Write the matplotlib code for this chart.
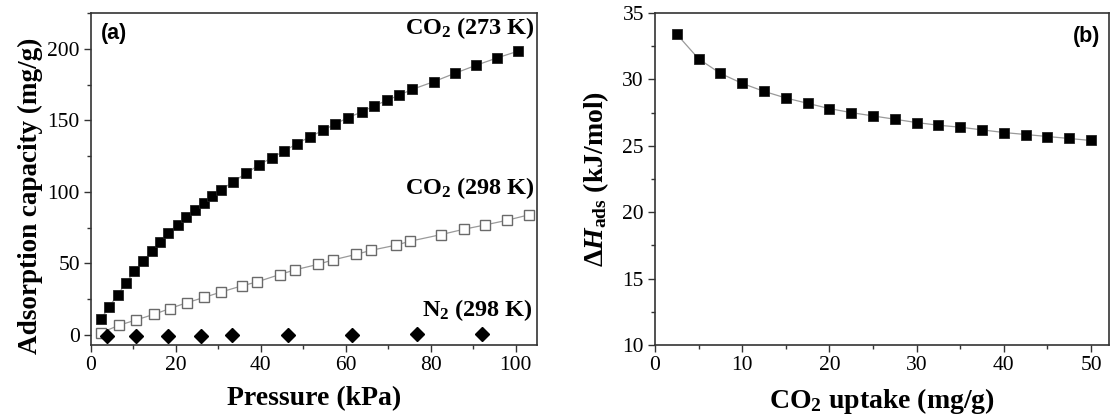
import matplotlib
matplotlib.use("Agg")
import matplotlib.pyplot as plt
from matplotlib.ticker import MultipleLocator

plt.rcParams['font.family'] = ['Liberation Serif', 'DejaVu Serif']
plt.rcParams['mathtext.fontset'] = 'custom'
plt.rcParams['mathtext.rm'] = 'Liberation Serif'
plt.rcParams['mathtext.bf'] = 'Liberation Serif:bold'
plt.rcParams['mathtext.it'] = 'Liberation Serif:italic'
plt.rcParams['mathtext.bfit'] = 'Liberation Serif:italic:bold'

# ---- Panel (a) data ----
p_co2_273 = [2.4, 4.3, 6.3, 8.3, 10.2, 12.3, 14.3, 16.3, 18.2, 20.4, 22.4, 24.4,
             26.5, 28.5, 30.7, 33.4, 36.6, 39.5, 42.5, 45.5, 48.5, 51.5, 54.6,
             57.5, 60.5, 63.7, 66.6, 69.7, 72.6, 75.6, 80.7, 85.6, 90.6, 95.7, 100.6]
q_co2_273 = [11.4, 19.8, 28.2, 36.6, 44.5, 51.5, 58.7, 65.0, 71.6, 77.2, 82.1, 87.4,
             92.5, 97.2, 101.4, 107.0, 113.1, 118.8, 123.7, 128.6, 133.7, 138.4, 143.0,
             147.4, 151.9, 155.8, 160.0, 164.0, 167.7, 171.6, 177.0, 182.8, 188.4, 193.7, 198.4]

p_co2_298 = [2.4, 6.6, 10.6, 14.9, 18.5, 22.6, 26.7, 30.7, 35.5, 39.1, 44.4, 48.0,
             53.5, 56.9, 62.5, 66.0, 71.7, 75.1, 82.5, 87.8, 92.8, 98.0, 103.0]
q_co2_298 = [1.6, 6.8, 10.5, 14.5, 18.4, 22.6, 26.3, 30.1, 34.3, 37.1, 42.2, 45.5,
             49.4, 52.4, 56.4, 59.2, 62.7, 65.5, 70.2, 73.9, 76.9, 80.2, 83.9]

p_n2_298 = [3.7, 10.6, 18.2, 25.9, 33.3, 46.3, 61.5, 76.8, 92.1]
q_n2_298 = [-0.7, -0.7, -0.6, -0.5, -0.3, -0.2, 0.2, 0.6, 1.0]

# ---- Panel (b) data ----
uptake = [2.5, 5, 7.5, 10, 12.5, 15, 17.5, 20, 22.5, 25, 27.5, 30, 32.5, 35,
          37.5, 40, 42.5, 45, 47.5, 50]
dH_ads = [33.4, 31.55, 30.45, 29.7, 29.1, 28.6, 28.2, 27.8, 27.5, 27.25, 27.0,
          26.75, 26.55, 26.4, 26.2, 26.0, 25.85, 25.7, 25.55, 25.4]

fig = plt.figure(figsize=(11.15, 4.19), dpi=100)
W, H = 1115, 419
axa = fig.add_axes([91 / W, (H - 345) / H, 446 / W, 332 / H])
axb = fig.add_axes([655 / W, (H - 345) / H, 454 / W, 332 / H])

spine_c = '#333333'
for ax in (axa, axb):
    for s in ax.spines.values():
        s.set_color(spine_c)
        s.set_linewidth(1.2)
    ax.tick_params(which='both', direction='out', color=spine_c, labelsize=15.5,
                   top=False, right=False)
    ax.tick_params(which='major', length=5, width=1.0, pad=3)
    ax.tick_params(which='minor', length=3, width=1.0)

line_c = '#9a9a9a'
axa.plot(p_co2_273, q_co2_273, '-', color=line_c, lw=0.9, marker='s', ms=7,
         mfc='black', mec='#222222', mew=0.6, zorder=3)
axa.plot(p_co2_298, q_co2_298, '-', color=line_c, lw=0.9, marker='s', ms=7,
         mfc='white', mec='#6a6a6a', mew=1.0, zorder=3)
axa.plot(p_n2_298, q_n2_298, linestyle='none', marker='D', ms=7.5,
         mfc='black', mec='black', zorder=4, clip_on=False)

axa.set_xlim(0, 105)
axa.set_ylim(-7, 225)
axa.xaxis.set_major_locator(MultipleLocator(20))
axa.xaxis.set_minor_locator(MultipleLocator(10))
axa.yaxis.set_major_locator(MultipleLocator(50))
axa.yaxis.set_minor_locator(MultipleLocator(25))
axa.set_xlabel('Pressure (kPa)', fontsize=20, fontweight='bold', labelpad=8)
axa.set_ylabel('Adsorption capacity (mg/g)', fontsize=19.5, fontweight='bold')
axa.yaxis.set_label_coords(-0.108, 0.45)

ann_kw = dict(transform=axa.transAxes, ha='right', va='center', fontsize=17.5)
axa.text(0.995, 0.955, r'$\mathbf{CO_2\ (273\ K)}$', **ann_kw)
axa.text(0.995, 0.472, r'$\mathbf{CO_2\ (298\ K)}$', **ann_kw)
axa.text(0.99, 0.105, r'$\mathbf{N_2\ (298\ K)}$', **ann_kw)
axa.text(0.022, 0.937, '(a)', transform=axa.transAxes, ha='left', va='center',
         fontsize=15.5, fontweight='bold', family=['Liberation Sans', 'DejaVu Sans'])

axb.plot(uptake, dH_ads, '-', color=line_c, lw=0.9, marker='s', ms=7,
         mfc='black', mec='#222222', mew=0.6, zorder=3)
axb.set_xlim(0, 52.06)
axb.set_ylim(10, 35)
axb.xaxis.set_major_locator(MultipleLocator(10))
axb.xaxis.set_minor_locator(MultipleLocator(5))
axb.yaxis.set_major_locator(MultipleLocator(5))
axb.yaxis.set_minor_locator(MultipleLocator(2.5))
axb.set_xlabel(r'$\mathbf{CO_2}$ uptake (mg/g)', fontsize=20, fontweight='bold', labelpad=8)
axb.set_ylabel(r'$\mathbf{\Delta}\mathbfit{H}_{\mathbf{ads}}$ (kJ/mol)', fontsize=20,
               fontweight='bold', labelpad=8)
axb.text(0.98, 0.93, '(b)', transform=axb.transAxes, ha='right', va='center',
         fontsize=15.5, fontweight='bold', family=['Liberation Sans', 'DejaVu Sans'])

fig.savefig('out.png', dpi=100)
